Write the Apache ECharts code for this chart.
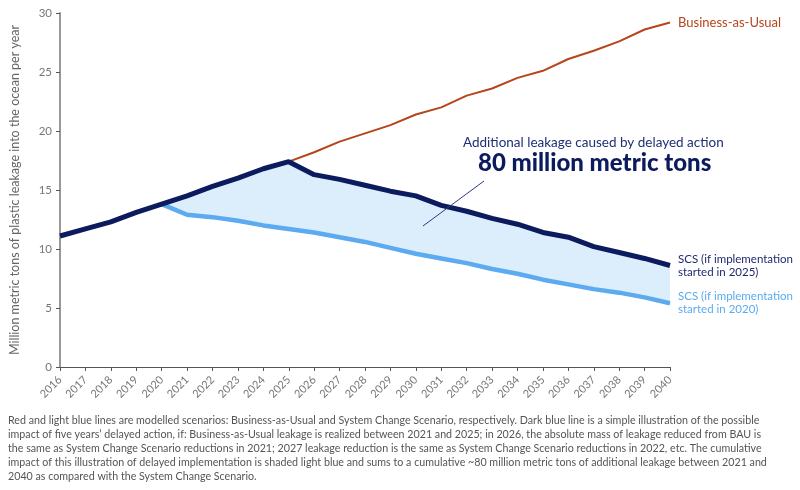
<!DOCTYPE html>
<html>
<head>
<meta charset="utf-8">
<script src="https://cdn.jsdelivr.net/npm/echarts@6/dist/echarts.min.js"></script>
<style>
  html, body { margin: 0; padding: 0; background: #fff; }
  #chart { width: 800px; height: 490px; }
</style>
</head>
<body>
<div id="chart"></div>
<script>
// years on the x axis
var years = ['2016','2017','2018','2019','2020','2021','2022','2023','2024','2025','2026','2027','2028',
             '2029','2030','2031','2032','2033','2034','2035','2036','2037','2038','2039','2040'];

// Business-as-Usual (only visible from 2025, below that it sits under the dark line)
var bau = [null, null, null, null, null, null, null, null, null, 17.4,
           18.2, 19.1, 19.8, 20.5, 21.4, 22.0, 23.0, 23.6, 24.5, 25.1,
           26.1, 26.8, 27.6, 28.6, 29.2];

// SCS if implementation started in 2025 (delayed action)
var scs2025 = [11.1, 11.7, 12.3, 13.1, 13.8, 14.5, 15.3, 16.0, 16.8, 17.4,
               16.3, 15.9, 15.4, 14.9, 14.5, 13.7, 13.2, 12.6, 12.1, 11.4,
               11.0, 10.2, 9.7, 9.2, 8.6];

// SCS if implementation started in 2020
var scs2020 = [null, null, null, null, 13.8, 12.9, 12.7, 12.4, 12.0, 11.7,
               11.4, 11.0, 10.6, 10.1, 9.6, 9.2, 8.8, 8.3, 7.9, 7.4,
               7.0, 6.6, 6.3, 5.9, 5.4];

var yTicks = [0, 5, 10, 15, 20, 25, 30];

// shaded gap between the two SCS lines
var gap = scs2020.map(function (v, i) {
    return v == null ? null : +(scs2025[i] - v).toFixed(2);
});

var caption = [
    'Red and light blue lines are modelled scenarios: Business-as-Usual and System Change Scenario, respectively. Dark blue line is a simple illustration of the possible',
    'impact of five years\u2019 delayed action, if: Business-as-Usual leakage is realized between 2021 and 2025; in 2026, the absolute mass of leakage reduced from BAU is',
    'the same as System Change Scenario reductions in 2021; 2027 leakage reduction is the same as System Change Scenario reductions in 2022, etc. The cumulative',
    'impact of this illustration of delayed implementation is shaded light blue and sums to a cumulative ~80 million metric tons of additional leakage between 2021 and',
    '2040 as compared with the System Change Scenario.'
].join('\n');

var navy = '#0b1b5e';
var lightBlue = '#5caaf0';
var red = '#b5451b';
var font = 'Lato';

var myChart = echarts.init(document.getElementById('chart'));

var option = {
    animation: false,
    textStyle: { fontFamily: font },
    grid: { left: 57, right: 130, top: 13, bottom: 123 },
    xAxis: {
        type: 'category',
        data: years,
        boundaryGap: false,
        axisLine: { lineStyle: { color: '#555', width: 1 } },
        axisTick: { show: true, length: 4, alignWithLabel: true, lineStyle: { color: '#555' } },
        axisLabel: { interval: 0, rotate: 45, color: '#777', fontSize: 11, margin: 11, fontFamily: font },
        splitLine: { show: false }
    },
    yAxis: {
        type: 'value',
        min: yTicks[0],
        max: yTicks[yTicks.length - 1],
        interval: 5,
        name: 'Million metric tons of plastic leakage into the ocean per year',
        nameLocation: 'middle',
        nameGap: 39,
        nameTextStyle: { color: '#666', fontSize: 12.5, fontFamily: font },
        axisLine: { show: true, lineStyle: { color: '#999', width: 2 } },
        axisTick: { show: true, length: 4, lineStyle: { color: '#555' } },
        axisLabel: { color: '#777', fontSize: 11.5, margin: 8, fontFamily: font },
        splitLine: { show: false }
    },
    series: [
        {
            name: 'SCS 2020',
            type: 'line',
            data: scs2020,
            stack: 'gap',
            symbol: 'none',
            z: 3,
            lineStyle: { color: lightBlue, width: 4.5 },
            endLabel: {
                show: true,
                formatter: 'SCS (if implementation\nstarted in 2020)',
                color: lightBlue,
                fontSize: 11.5,
                lineHeight: 13,
                distance: 8,
                fontFamily: font
            }
        },
        {
            name: 'gap',
            type: 'line',
            data: gap,
            stack: 'gap',
            symbol: 'none',
            z: 1,
            lineStyle: { width: 0, opacity: 0 },
            areaStyle: { color: '#dcedfb', opacity: 1 }
        },
        {
            name: 'BAU',
            type: 'line',
            data: bau,
            symbol: 'none',
            z: 2,
            lineStyle: { color: red, width: 2 },
            endLabel: {
                show: true,
                formatter: 'Business-as-Usual',
                color: red,
                fontSize: 13,
                distance: 8,
                fontFamily: font
            }
        },
        {
            name: 'SCS 2025',
            type: 'line',
            data: scs2025,
            symbol: 'none',
            z: 4,
            lineStyle: { color: navy, width: 5 },
            endLabel: {
                show: true,
                formatter: 'SCS (if implementation\nstarted in 2025)',
                color: '#1f2a6e',
                fontSize: 11.5,
                lineHeight: 13,
                distance: 8,
                fontFamily: font
            }
        }
    ],
    graphic: [
        {
            type: 'text',
            left: 463, top: 136,
            style: {
                text: 'Additional leakage caused by delayed action',
                fill: '#1f2f75',
                font: '13.5px ' + font
            }
        },
        {
            type: 'text',
            left: 478, top: 151,
            style: {
                text: '80 million metric tons',
                fill: navy,
                font: '900 24px ' + font
            }
        },
        {
            type: 'line',
            shape: { x1: 484, y1: 181, x2: 423, y2: 226 },
            style: { stroke: '#2a3a80', lineWidth: 1 },
            z: 10
        },
        {
            type: 'text',
            left: 8, top: 414,
            style: {
                text: caption,
                fill: '#555',
                font: '10.7px ' + font,
                lineHeight: 14
            }
        }
    ]
};

myChart.setOption(option);
</script>
</body>
</html>
